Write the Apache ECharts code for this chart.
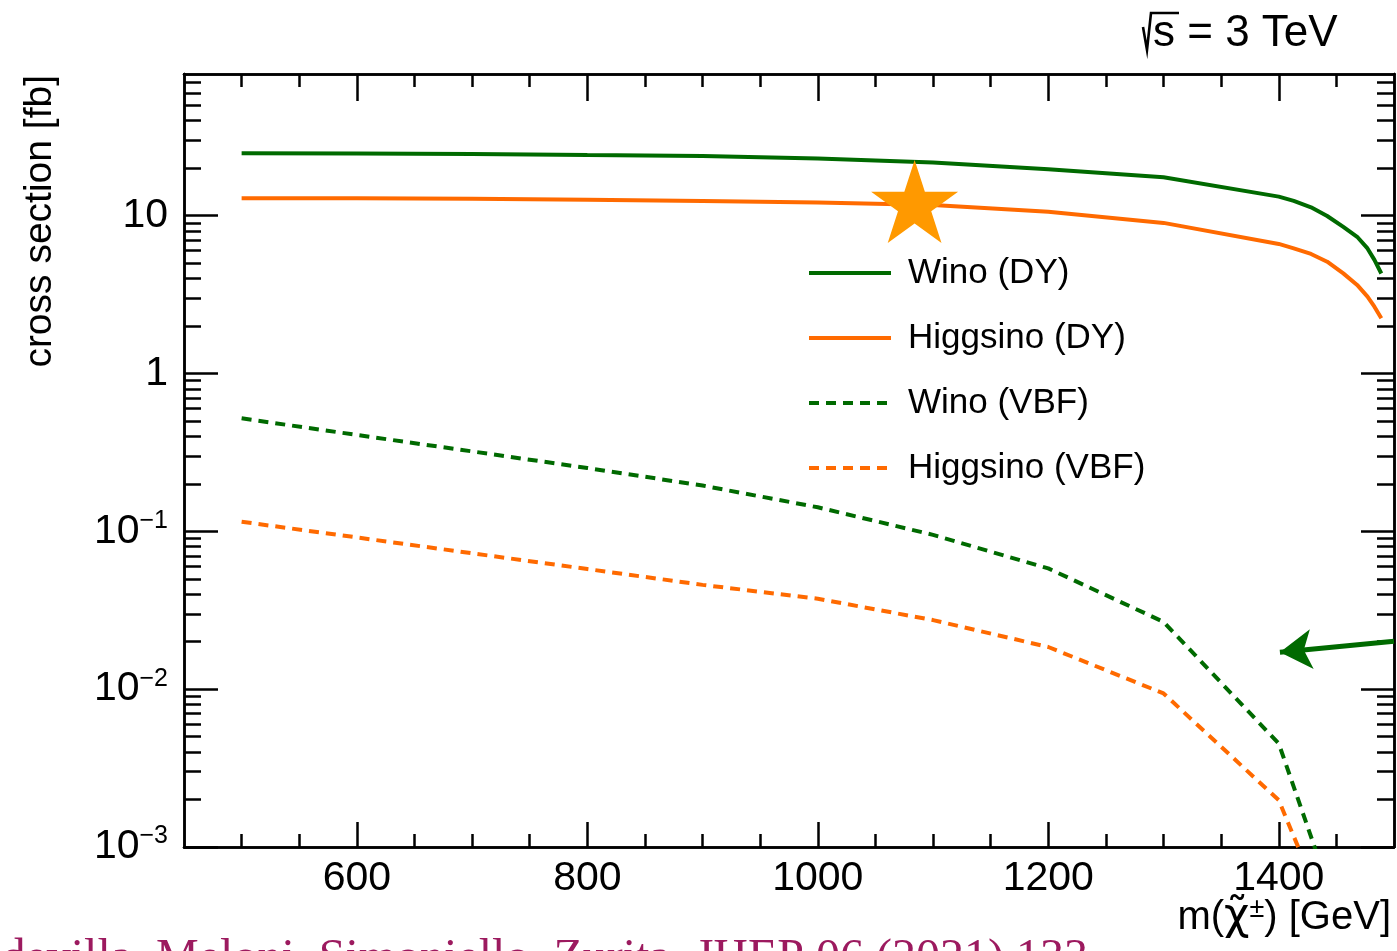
<!DOCTYPE html>
<html><head><meta charset="utf-8">
<script src="https://cdn.jsdelivr.net/npm/echarts@6/dist/echarts.min.js"></script>
<style>html,body{margin:0;padding:0;background:#fff;overflow:hidden}#c{width:1397px;height:951px}</style>
</head><body><div id="c"></div>
<script>
// ---- data ----
const massDY = [500, 600, 700, 800, 900, 1000, 1100, 1200, 1300, 1400, 1413, 1428, 1442, 1456, 1468, 1477, 1483, 1489];
const xsWinoDY = [24.9, 24.8, 24.6, 24.2, 23.9, 23.0, 21.7, 19.7, 17.5, 13.2, 12.4, 11.3, 9.95, 8.5, 7.35, 6.2, 5.25, 4.3];
const xsHiggsinoDY = [12.9, 12.9, 12.8, 12.6, 12.4, 12.1, 11.7, 10.6, 9.0, 6.62, 6.21, 5.72, 5.11, 4.31, 3.64, 3.07, 2.65, 2.24];
const massVBF = [500, 600, 700, 800, 900, 1000, 1100, 1200, 1300, 1400, 1450];
const xsWinoVBF = [0.52, 0.408, 0.321, 0.252, 0.195, 0.142, 0.095, 0.0582, 0.0267, 0.00452, 0.0004];
const xsHiggsinoVBF = [0.115, 0.0915, 0.0726, 0.0577, 0.0458, 0.0374, 0.0274, 0.0185, 0.0094, 0.00198, 0.00026];
const starPoint = [1084, 12.3];
const arrowFrom = [1500, 0.0201];
const arrowTo = [1401, 0.01714];
const seriesNames = ['Wino (DY)', 'Higgsino (DY)', 'Wino (VBF)', 'Higgsino (VBF)'];

// ---- axes ticks ----
const xMin = 450, xMax = 1500, yMin = 0.001, yMax = 79;
const xMajorTicks = [600, 800, 1000, 1200, 1400];
const xMinorTicks = [500, 550, 650, 700, 750, 850, 900, 950, 1050, 1100, 1150, 1250, 1300, 1350, 1450];
const yMajorTicks = [0.001, 0.01, 0.1, 1, 10];
const yLabelBase = ['10', '10', '10', '1', '10'];
const yLabelExp = ['\u22123', '\u22122', '\u22121', '', ''];
const yMinorMultipliers = [2, 3, 4, 5, 6, 7, 8, 9];
const yMinorTicks = [];
yMajorTicks.forEach(d => yMinorMultipliers.forEach(m => { const v = d * m; if (v < yMax) yMinorTicks.push(v); }));

const GREEN = '#006a00', ORANGE = '#ff6a00', STAR = '#ff9900';
const SANS = 'Liberation Sans';

const pair = (xs, ys) => xs.map((x, i) => [x, ys[i]]);

function xAxisDef(pos, ticks, len, labels) {
  return {
    type: 'value', position: pos, min: xMin, max: xMax,
    axisLine: { show: true, onZero: false, lineStyle: { color: '#000', width: 2.5 } },
    axisTick: { show: true, inside: true, length: len, customValues: ticks, lineStyle: { color: '#000', width: 2.5 } },
    axisLabel: labels ? {
      show: true, customValues: xMajorTicks, margin: 11, color: '#000', fontSize: 41, fontFamily: SANS,
      formatter: v => String(v)
    } : { show: false },
    splitLine: { show: false }, minorTick: { show: false }
  };
}
function yAxisDef(pos, ticks, len, labels) {
  return {
    type: 'log', logBase: 10, position: pos, min: yMin, max: yMax,
    axisLine: { show: true, onZero: false, lineStyle: { color: '#000', width: 2.5 } },
    axisTick: { show: true, inside: true, length: len, customValues: ticks, lineStyle: { color: '#000', width: 2.5 } },
    axisLabel: labels ? {
      show: true, customValues: yMajorTicks, margin: 16, color: '#000', fontFamily: SANS, fontSize: 41,
      formatter: v => {
        let best = 0, bd = 1e9;
        yMajorTicks.forEach((t, i) => { const d = Math.abs(Math.log10(t) - Math.log10(v)); if (d < bd) { bd = d; best = i; } });
        return yLabelExp[best] ? `{b|${yLabelBase[best]}}{e|${yLabelExp[best]}}` : `{b|${yLabelBase[best]}}`;
      },
      rich: {
        b: { fontSize: 41, fontFamily: SANS, color: '#000', lineHeight: 46 },
        e: { fontSize: 25, fontFamily: SANS, color: '#000', verticalAlign: 'top', lineHeight: 22 }
      }
    } : { show: false },
    splitLine: { show: false }, minorTick: { show: false }
  };
}

const starPath = 'path://M50 0 L61.23 34.55 L97.55 34.55 L68.16 55.9 L79.39 90.45 L50 69.1 L20.61 90.45 L31.84 55.9 L2.45 34.55 L38.77 34.55 Z';

const option = {
  animation: false,
  backgroundColor: '#fff',
  grid: { left: 184, right: 3, top: 74, bottom: 104, containLabel: false, outerBoundsMode: 'none' },
  xAxis: [
    xAxisDef('bottom', xMajorTicks, 25, true),
    xAxisDef('top', xMajorTicks, 27, false),
    xAxisDef('bottom', xMinorTicks, 13, false),
    xAxisDef('top', xMinorTicks, 13, false)
  ],
  yAxis: [
    yAxisDef('left', yMajorTicks, 34, true),
    yAxisDef('right', yMajorTicks, 33, false),
    yAxisDef('left', yMinorTicks, 17, false),
    yAxisDef('right', yMinorTicks, 17, false)
  ],
  legend: {
    orient: 'vertical', left: 807, top: 253, padding: 0, itemWidth: 82, itemHeight: 14, itemGap: 25,
    data: seriesNames,
    itemStyle: { opacity: 0 },
    lineStyle: { width: 4 },
    textStyle: { fontSize: 35, fontFamily: SANS, color: '#000', lineHeight: 40, padding: [0, 0, 0, 12] }
  },
  series: [
    { name: seriesNames[0], type: 'line', symbol: 'none', data: pair(massDY, xsWinoDY), z: 3,
      lineStyle: { color: GREEN, width: 4 }, itemStyle: { color: GREEN } },
    { name: seriesNames[1], type: 'line', symbol: 'none', data: pair(massDY, xsHiggsinoDY), z: 3,
      lineStyle: { color: ORANGE, width: 4 }, itemStyle: { color: ORANGE } },
    { name: seriesNames[2], type: 'line', symbol: 'none', data: pair(massVBF, xsWinoVBF), z: 3,
      lineStyle: { color: GREEN, width: 4, type: [10, 7] }, itemStyle: { color: GREEN },
      markLine: {
        silent: true, animation: false, symbol: ['none', 'arrow'], symbolSize: [30, 32],
        label: { show: false }, emphasis: { disabled: true },
        lineStyle: { color: GREEN, width: 5, type: 'solid' },
        data: [[{ coord: arrowFrom }, { coord: arrowTo }]]
      } },
    { name: seriesNames[3], type: 'line', symbol: 'none', data: pair(massVBF, xsHiggsinoVBF), z: 3,
      lineStyle: { color: ORANGE, width: 4, type: [10, 7] }, itemStyle: { color: ORANGE } },
    { name: 'star', type: 'scatter', data: [starPoint], symbol: starPath, symbolSize: [87, 83], z: 5,
      itemStyle: { color: STAR, opacity: 1 }, silent: true }
  ],
  graphic: [
    { type: 'text', x: 1153, y: 34, style: { text: 's = 3 TeV', font: `44px "${SANS}"`, fill: '#000',
      align: 'left', verticalAlign: 'middle', textAlign: 'left', textVerticalAlign: 'middle' } },
    { type: 'polyline', shape: { points: [[1143, 27], [1147, 50], [1151, 13], [1179, 13]] },
      style: { stroke: '#000', lineWidth: 2.6, fill: null } },
    { type: 'text', x: 40, y: 75, rotation: Math.PI / 2,
      style: { text: 'cross section [fb]', font: `39px "${SANS}"`, fill: '#000',
        align: 'right', verticalAlign: 'middle', textAlign: 'right', textVerticalAlign: 'middle' } },
    { type: 'text', x: 1391, y: 918,
      style: { text: '{n|m(}{c|\u03C7\u0303}{s|\u00B1}{n|) [GeV]}', fill: '#000',
        align: 'right', verticalAlign: 'middle', textAlign: 'right', textVerticalAlign: 'middle',
        rich: {
          n: { fontSize: 40, fontFamily: SANS, fill: '#000', lineHeight: 44 },
          c: { fontSize: 44, fontFamily: 'DejaVu Sans', fill: '#000', lineHeight: 44 },
          s: { fontSize: 27, fontFamily: SANS, fill: '#000', verticalAlign: 'top', lineHeight: 24 }
        } } },
    { type: 'text', x: 1088, y: 959,
      style: { text: 'Capdevilla, Meloni, Simoniello, Zurita, JHEP 06 (2021) 133', font: '48px "Liberation Serif"',
        fill: '#9c1a5f', align: 'right', verticalAlign: 'middle', textAlign: 'right', textVerticalAlign: 'middle' } }
  ]
};

const chart = echarts.init(document.getElementById('c'), null, { renderer: 'canvas' });
chart.setOption(option);
</script>
</body></html>
